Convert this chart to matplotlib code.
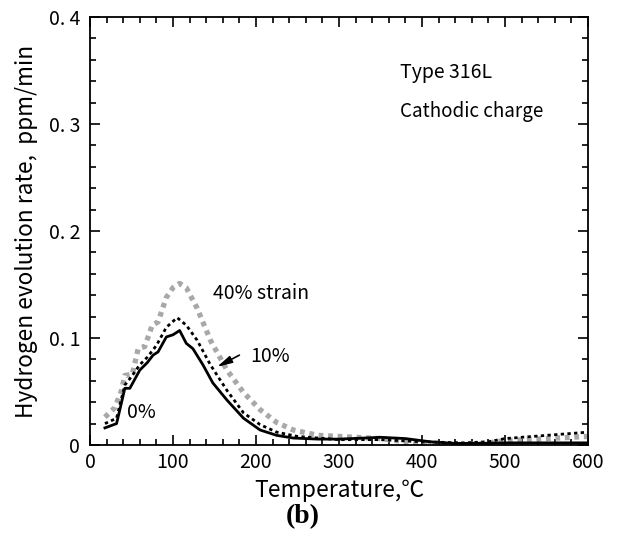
import matplotlib
matplotlib.use("Agg")
import matplotlib.pyplot as plt
from matplotlib.ticker import MultipleLocator, FixedLocator

plt.rcParams['font.family'] = ['Noto Sans CJK JP', 'DejaVu Sans']

# ---- data ----
t_0 = [18, 32, 42, 48, 60, 69, 76, 82, 92, 100, 108, 116, 124, 136, 148, 165, 185, 205, 225, 245,
       275, 300, 330, 350, 380, 410, 440, 470, 500, 550, 600]
v_0 = [0.016, 0.020, 0.053, 0.053, 0.070, 0.077, 0.084, 0.087, 0.101, 0.103, 0.107, 0.095, 0.090,
       0.075, 0.058, 0.042, 0.025, 0.014, 0.009, 0.0065, 0.0055, 0.0055, 0.0065, 0.0072, 0.006,
       0.003, 0.0015, 0.0015, 0.002, 0.002, 0.002]

t_10 = [18, 32, 42, 51, 60, 69, 80, 92, 105, 116, 129, 145, 165, 185, 205, 225, 250, 300, 350,
        400, 450, 480, 500, 550, 600]
v_10 = [0.020, 0.025, 0.056, 0.065, 0.075, 0.082, 0.093, 0.110, 0.119, 0.112, 0.098, 0.075, 0.051,
        0.030, 0.019, 0.012, 0.008, 0.005, 0.005, 0.003, 0.002, 0.003, 0.006, 0.009, 0.012]

t_40 = [18, 30, 38, 42, 51, 58, 66, 75, 82, 92, 100, 108, 116, 129, 145, 165, 185, 205, 225, 245,
        275, 300, 350, 380, 400, 450, 480, 500, 550, 600]
v_40 = [0.026, 0.035, 0.051, 0.065, 0.066, 0.090, 0.092, 0.112, 0.115, 0.138, 0.147, 0.151, 0.147,
        0.128, 0.098, 0.070, 0.049, 0.033, 0.021, 0.014, 0.009, 0.008, 0.006, 0.003, 0.001, 0.0,
        0.002, 0.004, 0.006, 0.008]

x_ticks = [0, 100, 200, 300, 400, 500, 600]
y_ticks = [0, 0.1, 0.2, 0.3, 0.4]
y_tick_labels = ['0', '0. 1', '0. 2', '0. 3', '0. 4']

fig = plt.figure(figsize=(6.19, 5.42), dpi=100)
ax = fig.add_axes([90/619, 1-445/542, (588-90)/619, (445-17)/542])

ax.plot(t_40, v_40, color='#a8a8a8', lw=3.8, linestyle=(0, (0.9, 0.9)),
        dash_capstyle='butt')
ax.plot(t_10, v_10, color='black', lw=2.0, linestyle=(0, (1.2, 1.2)))
ax.plot(t_0, v_0, color='black', lw=2.0)

ax.set_xlim(0, 600)
ax.set_ylim(0, 0.4)
ax.xaxis.set_major_locator(FixedLocator(x_ticks))
ax.xaxis.set_minor_locator(MultipleLocator(20))
ax.yaxis.set_major_locator(FixedLocator(y_ticks))
ax.set_yticklabels(y_tick_labels)
ax.yaxis.set_minor_locator(MultipleLocator(0.02))
ax.tick_params(which='both', direction='in', top=True, right=True, width=1.2, labelsize=14)
ax.tick_params(axis='y', which='major', length=7, pad=7)
ax.tick_params(axis='x', which='major', length=7, pad=5)
ax.tick_params(which='minor', length=4)
for s in ax.spines.values():
    s.set_linewidth(1.3)

ax.set_xlabel('Temperature,℃', fontsize=16.5, labelpad=4)
ax.set_ylabel('Hydrogen evolution rate,  ppm/min', fontsize=16.3, labelpad=8)

ax.text(373, 0.348, 'Type 316L', fontsize=14, ha='left', va='center')
ax.text(373, 0.312, 'Cathodic charge', fontsize=13.5, ha='left', va='center')
ax.text(148, 0.142, '40% strain', fontsize=14, ha='left', va='center')
ax.text(193, 0.083, '10%', fontsize=14, ha='left', va='center')
ax.text(45, 0.030, '0%', fontsize=14, ha='left', va='center')
ax.annotate('', xy=(153, 0.073), xytext=(180, 0.084),
            arrowprops=dict(arrowstyle='-|>,head_length=0.9,head_width=0.22', color='black', lw=1.2,
                            shrinkA=0, shrinkB=0))

fig.text(303/619, 1-517/542, '(b)', fontsize=20, fontweight='bold', family='Liberation Serif',
         ha='center', va='center')

fig.savefig('out.png', dpi=100)
